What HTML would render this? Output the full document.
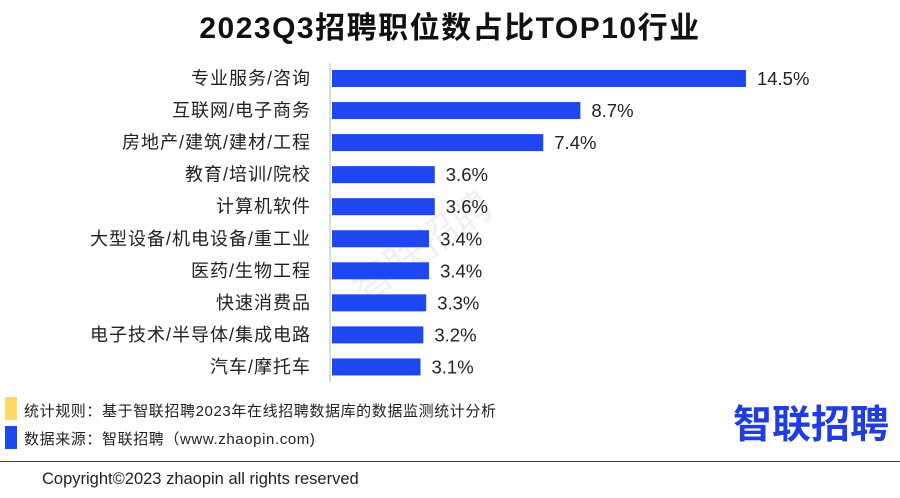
<!DOCTYPE html>
<html><head><meta charset="utf-8"><style>
body{margin:0;width:900px;height:498px;background:#fff;overflow:hidden;font-family:"Liberation Sans","Noto Sans CJK SC",sans-serif;position:relative}
.t{position:absolute;white-space:nowrap}
</style></head><body>
<div class="t" style="left:0;width:900px;text-align:center;top:3px;font-size:30px;font-weight:bold;color:#111;letter-spacing:1.5px">2023Q3招聘职位数占比TOP10行业</div>
<div class="t" style="left:340px;top:215px;font-size:40px;color:rgba(0,0,0,0.06);transform:rotate(-35deg)">智联招聘</div>
<svg id="chart" width="900" height="390" style="position:absolute;left:0;top:0"></svg>
<div style="position:absolute;left:5px;top:397px;width:12px;height:23px;background:#ffd966"></div>
<div class="t" style="left:24px;top:400px;font-size:15px;letter-spacing:0.6px;color:#222">统计规则：基于智联招聘2023年在线招聘数据库的数据监测统计分析</div>
<div style="position:absolute;left:5px;top:426px;width:12px;height:23px;background:#1f47f0"></div>
<div class="t" style="left:24px;top:428px;font-size:15px;letter-spacing:0.6px;color:#222">数据来源：智联招聘（www.zhaopin.com)</div>
<div class="t" style="left:733px;top:394px;font-size:39px;font-weight:bold;color:#1f3de0">智联招聘</div>
<div style="position:absolute;left:0;top:461px;width:900px;height:1px;background:#444"></div>
<div class="t" style="left:42px;top:470px;font-size:16.5px;color:#222">Copyright©2023 zhaopin all rights reserved</div>
<script>
const categories=["专业服务/咨询","互联网/电子商务","房地产/建筑/建材/工程","教育/培训/院校","计算机软件","大型设备/机电设备/重工业","医药/生物工程","快速消费品","电子技术/半导体/集成电路","汽车/摩托车"];
const values=[14.5,8.7,7.4,3.6,3.6,3.4,3.4,3.3,3.2,3.1];
const valueLabels=["14.5%","8.7%","7.4%","3.6%","3.6%","3.4%","3.4%","3.3%","3.2%","3.1%"];
const svg=document.getElementById('chart');
const NS='http://www.w3.org/2000/svg';
const x0=332, pxPer=28.55, y0=78.5, step=32.05, bh=17;
const xs=v=>x0+v*pxPer;
const ys=i=>y0+i*step;
const ax=document.createElementNS(NS,'line');


ax.setAttribute('x1',330);ax.setAttribute('x2',330);ax.setAttribute('y1',63);ax.setAttribute('y2',382);
ax.setAttribute('stroke','#d0d0d0');ax.setAttribute('stroke-width','1.5');svg.appendChild(ax);
categories.forEach((c,i)=>{
 const r=document.createElementNS(NS,'rect');
 
 
 r.setAttribute('x',x0);r.setAttribute('y',ys(i)-bh/2);r.setAttribute('width',xs(values[i])-x0);r.setAttribute('height',bh);r.setAttribute('fill','#1f47f0');
 svg.appendChild(r);
 const t=document.createElementNS(NS,'text');
 
 
 t.setAttribute('x',311);t.setAttribute('y',ys(i)+6);t.setAttribute('text-anchor','end');t.setAttribute('font-size','18');t.setAttribute('letter-spacing','1');t.setAttribute('fill','#222');
 t.textContent=c;svg.appendChild(t);
 const v=document.createElementNS(NS,'text');
 
 
 v.setAttribute('x',xs(values[i])+11);v.setAttribute('y',ys(i)+6.5);v.setAttribute('font-size','18.5');v.setAttribute('fill','#222');
 v.textContent=valueLabels[i];svg.appendChild(v);
});
</script>
</body></html>
